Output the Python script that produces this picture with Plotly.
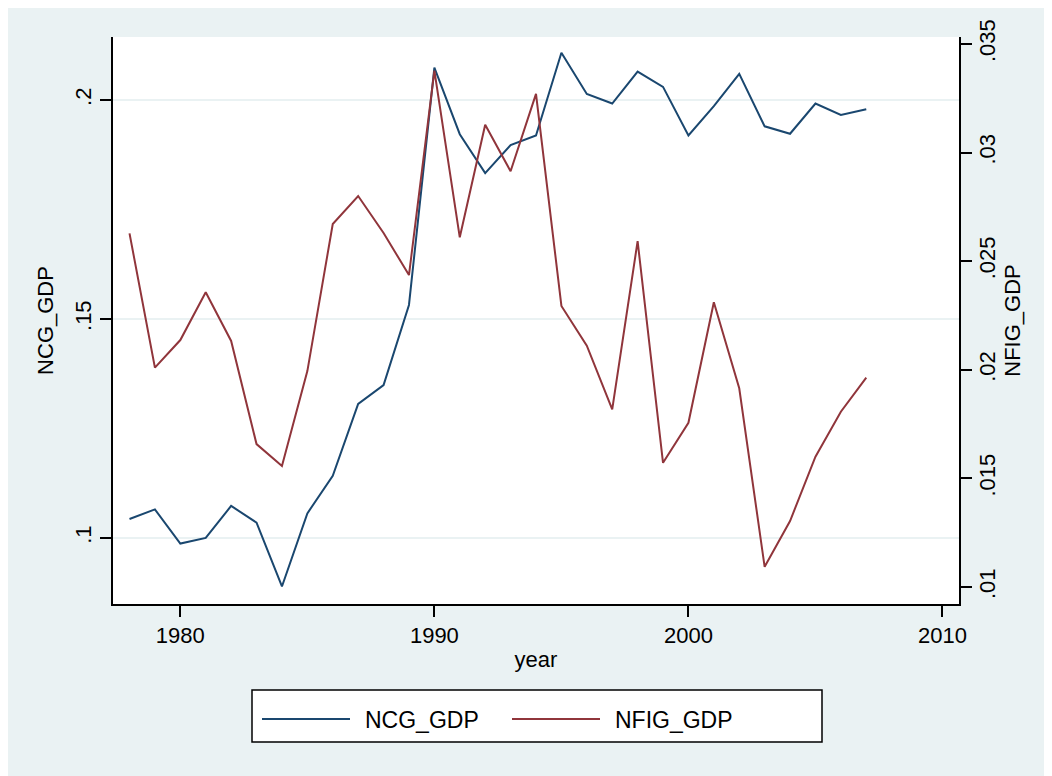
import plotly.graph_objects as go

years = list(range(1978, 2008))
ncg_gdp = [0.1043, 0.1065, 0.0987, 0.1000, 0.1073, 0.1035, 0.0889, 0.1056, 0.1142, 0.1306,
           0.1349, 0.1532, 0.2074, 0.1922, 0.1833, 0.1897, 0.1919, 0.2108, 0.2014, 0.1992,
           0.2065, 0.2030, 0.1919, 0.1986, 0.2060, 0.1940, 0.1923, 0.1992, 0.1966, 0.1979]
nfig_gdp = [0.02628, 0.02010, 0.02137, 0.02357, 0.02133, 0.01658, 0.01557, 0.01994, 0.02671,
            0.02800, 0.02630, 0.02436, 0.03377, 0.02610, 0.03128, 0.02914, 0.03270, 0.02294,
            0.02111, 0.01818, 0.02592, 0.01572, 0.01756, 0.02311, 0.01915, 0.01093, 0.01304,
            0.01600, 0.01807, 0.01964]

x_ticks = [1980, 1990, 2000, 2010]
left_ticks = [0.1, 0.15, 0.2]
left_labels = [".1", ".15", ".2"]
right_ticks = [0.01, 0.015, 0.02, 0.025, 0.03, 0.035]
right_labels = [".01", ".015", ".02", ".025", ".03", ".035"]

series_names = ["NCG_GDP", "NFIG_GDP"]
series_colors = ["#1a476f", "#90353b"]

BG = "#EAF2F3"
FONT = "Liberation Sans, Arial, sans-serif"

fig = go.Figure()
fig.add_trace(go.Scatter(x=years, y=ncg_gdp, name=series_names[0], mode="lines",
                         line=dict(color=series_colors[0], width=2), showlegend=False))
fig.add_trace(go.Scatter(x=years, y=nfig_gdp, name=series_names[1], mode="lines",
                         line=dict(color=series_colors[1], width=2), yaxis="y2",
                         showlegend=False))

axis_common = dict(showline=True, linecolor="black", linewidth=2, ticks="outside",
                   ticklen=11, tickwidth=2, tickcolor="black", zeroline=False,
                   tickfont=dict(size=22, color="black", family=FONT))

# legend box drawn in paper coordinates (plot area: 846 x 567 px)
L, T, PW, PH = 105, 29, 846, 567
def px(xp):
    return (xp - L) / PW
def py(yp):
    return (T + PH - yp) / PH

shapes = [dict(type="rect", xref="paper", yref="paper",
               x0=px(244), x1=px(814), y0=py(734), y1=py(682),
               fillcolor="white", line=dict(color="black", width=1.5))]
annotations = []
entry_x = [254, 504]
for i, name in enumerate(series_names):
    shapes.append(dict(type="line", xref="paper", yref="paper",
                       x0=px(entry_x[i]), x1=px(entry_x[i] + 88), y0=py(711), y1=py(711),
                       line=dict(color=series_colors[i], width=2)))
    annotations.append(dict(text=name, xref="paper", yref="paper", x=px(entry_x[i] + 101),
                            y=py(712), xanchor="left", yanchor="middle", showarrow=False,
                            font=dict(size=23, color="black", family=FONT)))

fig.update_layout(
    width=1052, height=776,
    margin=dict(l=L, r=1052 - L - PW, t=T, b=776 - T - PH),
    paper_bgcolor=BG, plot_bgcolor="white",
    font=dict(family=FONT, size=22, color="black"),
    showlegend=False,
    xaxis=dict(range=[1977.35, 2010.65], tickvals=x_ticks, showgrid=False,
               title=dict(text="year", standoff=4, font=dict(size=22)),
               **axis_common),
    yaxis=dict(range=[0.0849, 0.2144], tickvals=left_ticks, ticktext=left_labels,
               tickangle=-90, showgrid=True, gridcolor=BG, gridwidth=2,
               title=dict(text="NCG_GDP", standoff=12, font=dict(size=22)),
               **axis_common),
    yaxis2=dict(range=[0.00922, 0.03532], tickvals=right_ticks, ticktext=right_labels,
                tickangle=-90, overlaying="y", side="right", showgrid=False,
                ticklabelstandoff=-3,
                title=dict(text="NFIG_GDP", standoff=0, font=dict(size=22)),
                **axis_common),
    shapes=shapes,
    annotations=annotations,
)

fig.write_html("out.html")
